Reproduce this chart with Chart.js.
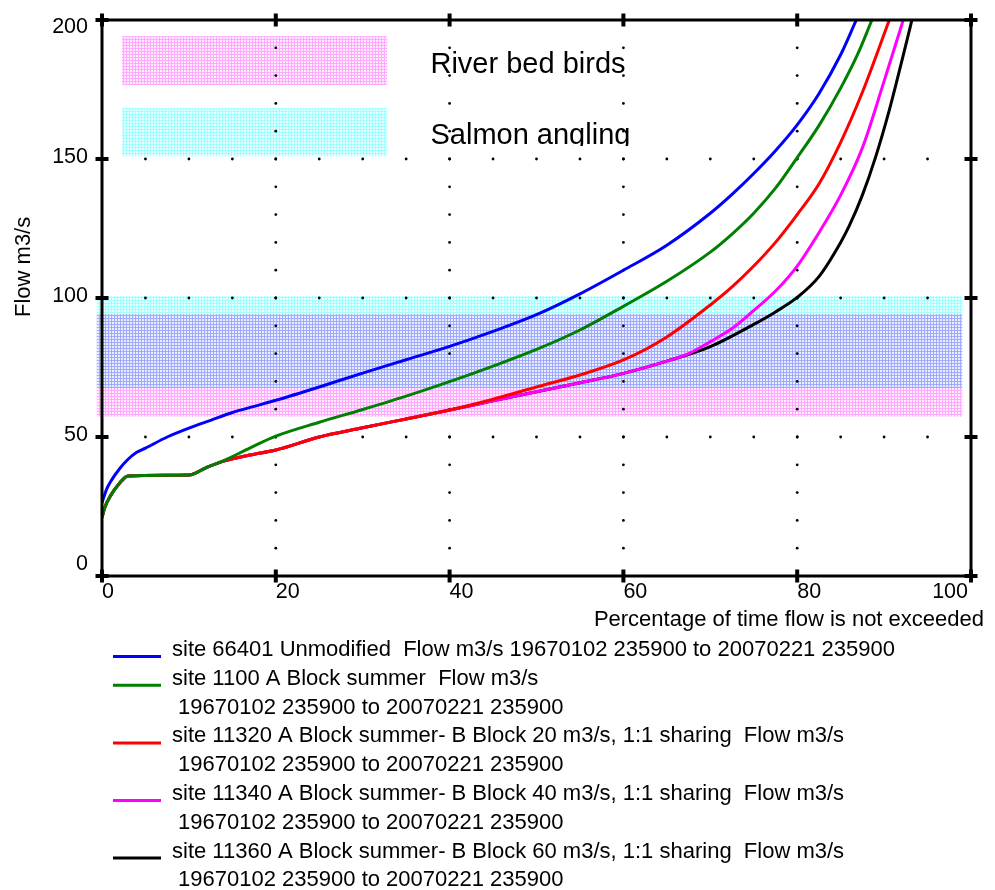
<!DOCTYPE html>
<html>
<head>
<meta charset="utf-8">
<script src="https://cdn.jsdelivr.net/npm/chart.js@4.4.0/dist/chart.umd.min.js"></script>
<style>
  html, body { margin: 0; padding: 0; background: #fff; }
  #flowChart { display: block; }
</style>
</head>
<body>
<canvas id="flowChart" width="995" height="890"></canvas>
<script>
// Flow duration curves: % of time flow is not exceeded vs flow (m3/s)
const xTicks = [0, 20, 40, 60, 80, 100];
const yTicks = [0, 50, 100, 150, 200];

const unmodPct  = [0, 0.5, 1, 2, 3, 4, 5, 7.5, 10, 12.5, 15, 17.5, 20, 25, 30, 35, 40, 45, 50, 55, 60, 65, 70, 72.5, 75, 77.5, 80, 82.5, 85, 86.8];
const unmodFlow = [26.3, 31, 34, 38.5, 42, 44.5, 46, 50, 53.2, 56, 58.8, 61, 63.2, 68, 73, 77.8, 82.6, 88, 94, 101.5, 110, 119, 130.5, 137.3, 144.8, 153, 162.3, 173.5, 187.5, 200];

const site1100Pct  = [0, 0.3, 1, 2, 3, 10, 12, 14, 17, 20, 25, 30, 35, 40, 45, 50, 55, 60, 65, 70, 72.5, 75, 77.5, 80, 82.5, 85, 87, 88.6];
const site1100Flow = [21, 24.5, 29, 33.3, 36, 36.3, 39, 41.5, 46, 50.3, 55.3, 59.9, 64.7, 69.9, 75.5, 81.5, 88.5, 97, 106, 116.5, 123, 130.5, 139.5, 150.5, 162, 175.5, 188, 200];

const site11320Pct  = [0, 0.3, 1, 2, 3, 10, 12, 14, 17, 20, 25, 30, 35, 40, 45, 50, 55, 60, 65, 70, 72.5, 75, 77.5, 80, 82.5, 85, 87.5, 90.6];
const site11320Flow = [21, 24.5, 29, 33.3, 36, 36.3, 39, 41.3, 43.5, 45.3, 50, 53.3, 56.5, 59.7, 63.6, 68, 72.3, 77.7, 86, 97.5, 104, 111.5, 120, 130, 141, 156, 174, 200];

const site11340Pct  = [0, 0.3, 1, 2, 3, 10, 12, 14, 17, 20, 25, 30, 35, 40, 45, 50, 55, 60, 65, 67.5, 70, 72.5, 75, 77.5, 80, 82.5, 85, 87.5, 90, 92.2];
const site11340Flow = [21, 24.5, 29, 33.3, 36, 36.3, 39, 41.3, 43.5, 45.3, 50, 53.3, 56.5, 59.7, 63, 66.3, 69.5, 72.9, 77.3, 80, 84.3, 89, 95.5, 102.5, 111.5, 123.5, 137, 154, 178, 200];

const site11360Pct  = [0, 0.3, 1, 2, 3, 10, 12, 14, 17, 20, 25, 30, 35, 40, 45, 50, 55, 60, 65, 70, 75, 77.5, 80, 82.5, 85, 86, 87.5, 89, 90.6, 92.1, 93.2];
const site11360Flow = [21, 24.5, 29, 33.3, 36, 36.3, 39, 41.3, 43.5, 45.3, 50, 53.3, 56.5, 59.7, 63, 66.3, 69.5, 72.9, 77.3, 82.5, 90.5, 95, 100.2, 107.7, 120, 126, 137, 150.5, 167.6, 186, 200];

const seriesLabels = [
  ['site 66401 Unmodified  Flow m3/s 19670102 235900 to 20070221 235900'],
  ['site 1100 A Block summer  Flow m3/s', ' 19670102 235900 to 20070221 235900'],
  ['site 11320 A Block summer- B Block 20 m3/s, 1:1 sharing  Flow m3/s', ' 19670102 235900 to 20070221 235900'],
  ['site 11340 A Block summer- B Block 40 m3/s, 1:1 sharing  Flow m3/s', ' 19670102 235900 to 20070221 235900'],
  ['site 11360 A Block summer- B Block 60 m3/s, 1:1 sharing  Flow m3/s', ' 19670102 235900 to 20070221 235900']
];
const seriesColors = ['#0000ff', '#008000', '#ff0000', '#ff00ff', '#000000'];

// flow ranges of interest
const bandNames = ['River bed birds', 'Salmon angling'];
const bandLow  = [57.3, 67.5];
const bandHigh = [94.2, 100.7];

const FONT = '"Liberation Sans", Arial, sans-serif';

function toPoints(xs, ys) {
  return xs.map((v, i) => ({ x: v, y: ys[i] }));
}

// small cross-hatch tile like the original fill
function makePattern(ctx, line, fill) {
  const c = document.createElement('canvas');
  c.width = 3; c.height = 3;
  const p = c.getContext('2d');
  p.fillStyle = fill;
  p.fillRect(0, 0, 3, 3);
  p.fillStyle = line;
  p.fillRect(0, 0, 3, 1);
  p.fillRect(0, 0, 1, 3);
  return ctx.createPattern(c, 'repeat');
}

const canvas = document.getElementById('flowChart');
const ctx0 = canvas.getContext('2d');
const bandPatterns = [
  makePattern(ctx0, 'rgb(255,170,255)', 'rgb(255,236,255)'),
  makePattern(ctx0, 'rgb(160,255,255)', 'rgb(232,255,255)')
];

const flowDecor = {
  id: 'flowDecor',
  beforeDatasetsDraw(chart) {
    const { ctx, scales: { x, y } } = chart;
    const area = chart.chartArea;

    // bands + key boxes
    ctx.save();
    ctx.globalCompositeOperation = 'multiply';
    const keyTop = [194.2, 168.3];
    const keyBot = [176.6, 151];
    bandNames.forEach((name, i) => {
      ctx.fillStyle = bandPatterns[i];
      const x0 = x.getPixelForValue(-0.6), x1 = x.getPixelForValue(99);
      const t = y.getPixelForValue(bandHigh[i]), b = y.getPixelForValue(bandLow[i]);
      ctx.fillRect(x0, t, x1 - x0, b - t);
      const k0 = x.getPixelForValue(2.3), k1 = x.getPixelForValue(32.8);
      const kt = y.getPixelForValue(keyTop[i]), kb = y.getPixelForValue(keyBot[i]);
      ctx.fillRect(k0, kt, k1 - k0, kb - kt);
    });
    ctx.restore();

    // key texts
    ctx.save();
    ctx.fillStyle = '#000';
    ctx.font = '29px ' + FONT;
    ctx.textBaseline = 'alphabetic';
    const tx = x.getPixelForValue(37.8);
    ctx.fillText(bandNames[0], tx, area.top + 53);
    ctx.beginPath();
    ctx.rect(tx - 5, area.top + 80, 300, 46);
    ctx.clip();
    ctx.fillText(bandNames[1], tx, area.top + 124);
    ctx.restore();

    // dotted grid
    ctx.save();
    ctx.fillStyle = '#000';
    const dot = (px, py) => { ctx.beginPath(); ctx.arc(px, py, 1.4, 0, Math.PI * 2); ctx.fill(); };
    [20, 40, 60, 80].forEach(gx => {
      for (let v = 10; v < 200; v += 10) dot(x.getPixelForValue(gx), y.getPixelForValue(v));
    });
    [50, 100, 150].forEach(gy => {
      for (let v = 5; v < 100; v += 5) dot(x.getPixelForValue(v), y.getPixelForValue(gy));
    });
    ctx.restore();
  },
  afterDatasetsDraw(chart) {
    const { ctx, scales: { x, y } } = chart;
    const a = chart.chartArea;
    ctx.save();
    ctx.strokeStyle = '#000';
    ctx.lineWidth = 3;
    ctx.strokeRect(a.left, a.top, a.right - a.left, a.bottom - a.top);
    ctx.lineWidth = 4;
    ctx.beginPath();
    xTicks.forEach(v => {
      const px = x.getPixelForValue(v);
      ctx.moveTo(px, a.bottom - 6.5); ctx.lineTo(px, a.bottom + 6.5);
      ctx.moveTo(px, a.top - 6.5); ctx.lineTo(px, a.top + 6.5);
    });
    yTicks.forEach(v => {
      const py = y.getPixelForValue(v);
      ctx.moveTo(a.left - 6.5, py); ctx.lineTo(a.left + 6.5, py);
      ctx.moveTo(a.right - 6.5, py); ctx.lineTo(a.right + 6.5, py);
    });
    ctx.stroke();
    ctx.restore();
  },
  afterDraw(chart) {
    const { ctx, scales: { x, y } } = chart;
    const a = chart.chartArea;
    ctx.save();
    ctx.fillStyle = '#000';
    ctx.textBaseline = 'alphabetic';

    // tick labels
    ctx.font = '21.5px ' + FONT;
    ctx.textAlign = 'right';
    yTicks.forEach(v => {
      const mid = Math.min(Math.max(y.getPixelForValue(v) - 3.5, a.top + 5.5), a.bottom - 13.5);
      ctx.fillText(String(v), a.left - 14, mid + 7.7);
    });
    xTicks.forEach(v => {
      const s = String(v);
      const px = x.getPixelForValue(v);
      const w = ctx.measureText(s).width;
      if (px + w > a.right - 3) {
        ctx.textAlign = 'right';
        ctx.fillText(s, a.right - 3, a.bottom + 22);
      } else {
        ctx.textAlign = 'left';
        ctx.fillText(s, px, a.bottom + 22);
      }
    });

    // axis titles
    ctx.font = '22px ' + FONT;
    ctx.textAlign = 'right';
    ctx.fillText('Percentage of time flow is not exceeded', 984, a.bottom + 50);
    ctx.save();
    ctx.translate(29.5, 317);
    ctx.rotate(-Math.PI / 2);
    ctx.textAlign = 'left';
    ctx.fillText('Flow m3/s', 0, 0);
    ctx.restore();

    // legend
    ctx.textAlign = 'left';
    let row = 0;
    seriesLabels.forEach((lines, i) => {
      const base = 656 + row * 28.8;
      ctx.strokeStyle = seriesColors[i];
      ctx.lineWidth = 3;
      ctx.beginPath();
      ctx.moveTo(113, base + 0.5);
      ctx.lineTo(161, base + 0.5);
      ctx.stroke();
      lines.forEach((t, j) => ctx.fillText(t, 172, 656 + (row + j) * 28.8));
      row += lines.length;
    });
    ctx.restore();
  }
};

const allPct = [unmodPct, site1100Pct, site11320Pct, site11340Pct, site11360Pct];
const allFlow = [unmodFlow, site1100Flow, site11320Flow, site11340Flow, site11360Flow];

new Chart(canvas, {
  type: 'line',
  data: {
    datasets: allPct.map((pct, i) => ({
      label: seriesLabels[i].join(''),
      data: toPoints(pct, allFlow[i]),
      borderColor: seriesColors[i],
      borderWidth: 3,
      pointRadius: 0,
      fill: false,
      cubicInterpolationMode: 'monotone'
    }))
  },
  options: {
    responsive: false,
    animation: false,
    layout: { padding: { left: 102, top: 20, right: 24, bottom: 314 } },
    plugins: { legend: { display: false }, tooltip: { enabled: false } },
    scales: {
      x: { type: 'linear', min: 0, max: 100, display: false },
      y: { type: 'linear', min: 0, max: 200, display: false }
    }
  },
  plugins: [flowDecor]
});
</script>
</body>
</html>
